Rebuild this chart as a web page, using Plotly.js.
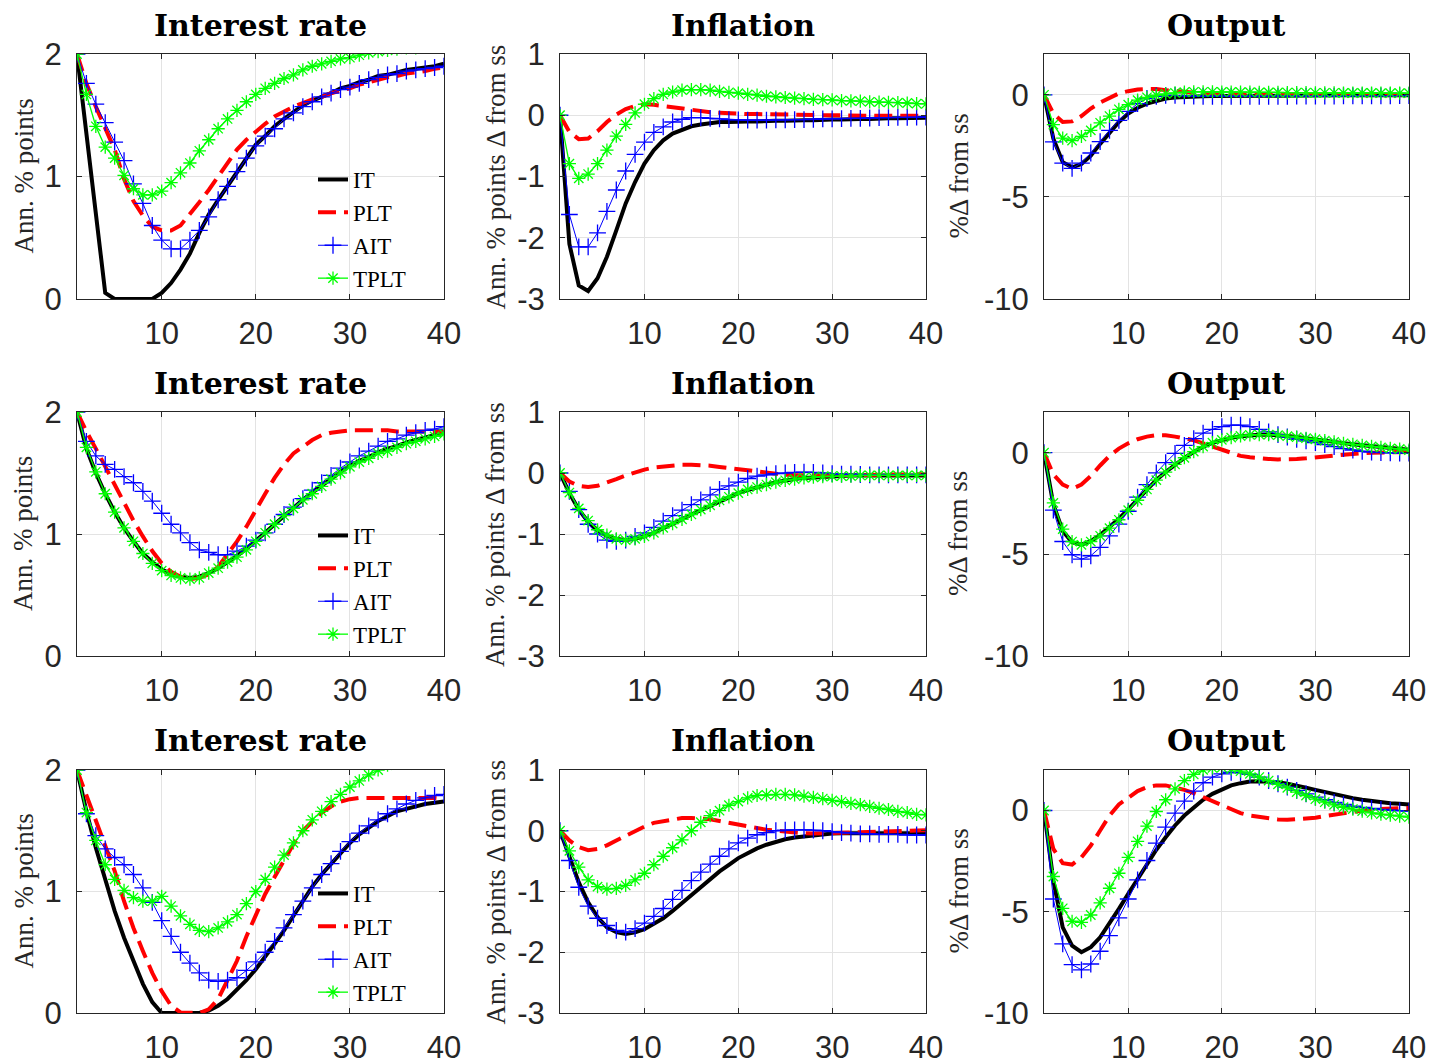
<!DOCTYPE html>
<html><head><meta charset="utf-8">
<script src="https://cdn.plot.ly/plotly-3.0.1.min.js"></script>
<style>html,body{margin:0;padding:0;background:#fff}#chart{width:1431px;height:1064px}</style>
</head><body><div id="chart"></div>
<script>
// ---------- data ----------
const periods = [1,2,3,4,5,6,7,8,9,10,11,12,13,14,15,16,17,18,19,20,21,22,23,24,25,26,27,28,29,30,31,32,33,34,35,36,37,38,39,40];
const seriesNames = ['IT','PLT','AIT','TPLT'];
const panelTitles = ['Interest rate','Inflation','Output'];
const yLabels = ['Ann. % points','Ann. % points \u0394 from ss','%\u0394 from ss'];
const yTickVals = [[0,1,2],[-3,-2,-1,0,1],[-10,-5,0]];
const yTickText = [['0','1','2'],['-3','-2','-1','0','1'],['-10','-5','0']];
const yRanges = [[0,2],[-3,1],[-10,2]];
const xTickVals = [10,20,30,40];
const xTickText = ['10','20','30','40'];

// Row 1
const r1_rate_IT   = [2.0,1.35,0.70,0.05,0,0,0,0,0,0.05,0.13,0.24,0.37,0.54,0.69,0.81,0.92,1.04,1.15,1.26,1.33,1.41,1.47,1.53,1.58,1.62,1.65,1.68,1.72,1.74,1.77,1.79,1.82,1.83,1.85,1.87,1.88,1.89,1.90,1.92];
const r1_rate_PLT  = [2.0,1.76,1.57,1.39,1.22,0.98,0.80,0.68,0.59,0.56,0.56,0.60,0.69,0.79,0.89,1.00,1.11,1.22,1.30,1.37,1.43,1.49,1.53,1.57,1.60,1.63,1.65,1.68,1.70,1.72,1.75,1.77,1.79,1.81,1.82,1.84,1.85,1.86,1.88,1.89];
const r1_rate_AIT  = [2.0,1.76,1.59,1.44,1.28,1.13,0.94,0.78,0.60,0.48,0.41,0.41,0.48,0.56,0.67,0.81,0.92,1.04,1.15,1.25,1.33,1.39,1.47,1.52,1.57,1.61,1.65,1.68,1.71,1.73,1.76,1.79,1.81,1.83,1.84,1.86,1.87,1.88,1.89,1.90];
const r1_rate_TPLT = [2.0,1.67,1.41,1.24,1.15,1.01,0.90,0.85,0.85,0.88,0.95,1.03,1.11,1.21,1.30,1.39,1.47,1.54,1.61,1.67,1.72,1.76,1.80,1.83,1.87,1.90,1.92,1.94,1.96,1.97,1.99,2.01,2.02,2.03,2.04,2.05,2.05,2.06,2.07,2.07];

const r1_infl_IT   = [0,-2.10,-2.78,-2.87,-2.66,-2.31,-1.88,-1.44,-1.09,-0.79,-0.57,-0.41,-0.30,-0.24,-0.18,-0.15,-0.125,-0.11,-0.11,-0.10,-0.10,-0.10,-0.09,-0.09,-0.09,-0.08,-0.08,-0.08,-0.07,-0.07,-0.07,-0.06,-0.06,-0.06,-0.05,-0.05,-0.05,-0.05,-0.04,-0.04];
const r1_infl_PLT  = [0,-0.27,-0.39,-0.38,-0.26,-0.11,0.01,0.10,0.15,0.18,0.17,0.15,0.125,0.10,0.08,0.065,0.05,0.04,0.03,0.03,0.02,0.02,0.015,0.01,0.01,0.005,0.005,0,0,0,-0.005,-0.005,-0.01,-0.01,-0.01,-0.01,-0.01,-0.01,-0.01,-0.01];
const r1_infl_AIT  = [0,-1.62,-2.15,-2.15,-1.92,-1.57,-1.22,-0.91,-0.64,-0.44,-0.28,-0.19,-0.11,-0.065,-0.04,-0.04,-0.05,-0.06,-0.07,-0.075,-0.08,-0.08,-0.08,-0.075,-0.075,-0.07,-0.07,-0.065,-0.06,-0.06,-0.055,-0.05,-0.05,-0.045,-0.04,-0.04,-0.035,-0.035,-0.03,-0.03];
const r1_infl_TPLT = [0,-0.79,-1.03,-0.96,-0.79,-0.57,-0.34,-0.15,0.04,0.18,0.27,0.34,0.38,0.41,0.42,0.42,0.41,0.39,0.375,0.36,0.34,0.33,0.31,0.30,0.29,0.28,0.27,0.26,0.255,0.25,0.24,0.235,0.23,0.22,0.215,0.21,0.205,0.20,0.19,0.185];

const r1_out_IT   = [0,-2.15,-3.30,-3.55,-3.39,-2.98,-2.40,-1.83,-1.33,-0.92,-0.63,-0.43,-0.28,-0.18,-0.13,-0.10,-0.08,-0.07,-0.06,-0.05,-0.05,-0.05,-0.04,-0.04,-0.04,-0.04,-0.03,-0.03,-0.03,-0.03,-0.03,-0.03,-0.02,-0.02,-0.02,-0.02,-0.02,-0.02,-0.02,-0.02];
const r1_out_PLT  = [0,-0.92,-1.33,-1.30,-1.04,-0.67,-0.38,-0.15,0.07,0.18,0.26,0.28,0.28,0.23,0.18,0.13,0.10,0.07,0.05,0.04,0.03,0.02,0.02,0.01,0.01,0.01,0,0,0,0,0,0,0,0,0,0,0,0,0,0];
const r1_out_AIT  = [0,-2.30,-3.34,-3.60,-3.34,-2.85,-2.29,-1.74,-1.25,-0.81,-0.43,-0.18,-0.07,-0.03,-0.03,-0.05,-0.06,-0.07,-0.07,-0.07,-0.07,-0.07,-0.07,-0.07,-0.07,-0.07,-0.07,-0.06,-0.06,-0.06,-0.06,-0.06,-0.05,-0.05,-0.05,-0.05,-0.05,-0.05,-0.04,-0.04];
const r1_out_TPLT = [0,-1.46,-2.12,-2.24,-2.04,-1.74,-1.37,-1.04,-0.71,-0.48,-0.26,-0.12,-0.02,0.05,0.10,0.13,0.15,0.15,0.15,0.14,0.14,0.13,0.13,0.12,0.12,0.12,0.11,0.11,0.11,0.10,0.10,0.10,0.09,0.09,0.09,0.09,0.08,0.08,0.08,0.08];

// Row 2
const r2_rate_IT   = [2.0,1.70,1.50,1.33,1.18,1.05,0.94,0.84,0.77,0.71,0.67,0.65,0.64,0.65,0.68,0.72,0.77,0.82,0.88,0.94,1.01,1.08,1.15,1.22,1.28,1.34,1.40,1.46,1.51,1.56,1.60,1.63,1.67,1.70,1.72,1.75,1.77,1.79,1.81,1.83];
const r2_rate_PLT  = [2.0,1.84,1.70,1.55,1.40,1.25,1.11,0.98,0.86,0.76,0.69,0.65,0.63,0.64,0.67,0.73,0.83,0.94,1.06,1.20,1.33,1.46,1.57,1.66,1.72,1.77,1.81,1.83,1.84,1.85,1.85,1.85,1.85,1.85,1.84,1.84,1.84,1.84,1.84,1.84];
const r2_rate_AIT  = [2.0,1.76,1.64,1.57,1.53,1.47,1.42,1.35,1.27,1.17,1.08,1.01,0.93,0.87,0.85,0.83,0.83,0.86,0.90,0.95,1.01,1.08,1.16,1.22,1.29,1.36,1.42,1.48,1.54,1.59,1.64,1.68,1.72,1.76,1.78,1.81,1.83,1.85,1.86,1.88];
const r2_rate_TPLT = [2.0,1.71,1.51,1.33,1.18,1.05,0.94,0.84,0.76,0.70,0.66,0.64,0.63,0.64,0.68,0.72,0.77,0.81,0.87,0.94,1.01,1.08,1.15,1.21,1.28,1.33,1.39,1.45,1.50,1.55,1.59,1.62,1.66,1.68,1.71,1.74,1.76,1.78,1.80,1.82];

const r2_infl_IT   = [0,-0.33,-0.60,-0.80,-0.94,-1.03,-1.08,-1.10,-1.08,-1.04,-0.98,-0.91,-0.84,-0.76,-0.68,-0.61,-0.53,-0.46,-0.39,-0.33,-0.28,-0.23,-0.19,-0.15,-0.12,-0.10,-0.08,-0.07,-0.06,-0.05,-0.05,-0.04,-0.04,-0.04,-0.04,-0.04,-0.04,-0.04,-0.04,-0.04];
const r2_infl_PLT  = [0,-0.14,-0.21,-0.23,-0.21,-0.16,-0.10,-0.04,0.01,0.055,0.09,0.11,0.125,0.135,0.135,0.13,0.12,0.10,0.08,0.06,0.04,0.015,0.0,-0.015,-0.03,-0.035,-0.04,-0.04,-0.04,-0.04,-0.035,-0.035,-0.03,-0.03,-0.03,-0.025,-0.025,-0.02,-0.02,-0.02];
const r2_infl_AIT  = [0,-0.30,-0.60,-0.84,-1.00,-1.10,-1.12,-1.10,-1.04,-0.98,-0.89,-0.79,-0.70,-0.61,-0.52,-0.44,-0.36,-0.27,-0.21,-0.15,-0.09,-0.05,-0.03,-0.01,0.0,0.01,0.015,0.01,0.0,-0.01,-0.02,-0.02,-0.025,-0.03,-0.03,-0.03,-0.03,-0.03,-0.03,-0.03];
const r2_infl_TPLT = [0,-0.32,-0.58,-0.78,-0.93,-1.02,-1.08,-1.10,-1.08,-1.04,-0.98,-0.90,-0.83,-0.76,-0.68,-0.60,-0.53,-0.45,-0.39,-0.33,-0.27,-0.23,-0.19,-0.15,-0.12,-0.10,-0.08,-0.07,-0.06,-0.05,-0.05,-0.05,-0.04,-0.04,-0.04,-0.04,-0.04,-0.04,-0.04,-0.04];

const r2_out_IT   = [0,-2.55,-3.85,-4.40,-4.52,-4.35,-4.05,-3.67,-3.25,-2.79,-2.30,-1.79,-1.34,-0.95,-0.58,-0.26,0.04,0.29,0.48,0.62,0.73,0.81,0.86,0.88,0.88,0.86,0.82,0.77,0.72,0.66,0.60,0.54,0.47,0.41,0.36,0.31,0.26,0.22,0.18,0.14];
const r2_out_PLT  = [0,-1.07,-1.57,-1.78,-1.57,-1.15,-0.63,-0.16,0.20,0.46,0.66,0.79,0.86,0.86,0.79,0.71,0.61,0.46,0.30,0.13,-0.03,-0.16,-0.23,-0.28,-0.31,-0.33,-0.33,-0.31,-0.28,-0.23,-0.18,-0.13,-0.08,-0.05,-0.02,0.0,0.01,0.02,0.03,0.03];
const r2_out_AIT  = [0,-2.83,-4.37,-5.02,-5.24,-5.07,-4.66,-4.09,-3.51,-2.88,-2.19,-1.57,-0.99,-0.49,-0.03,0.36,0.69,0.96,1.15,1.28,1.35,1.35,1.28,1.15,1.02,0.89,0.77,0.66,0.58,0.49,0.40,0.30,0.20,0.13,0.07,0.03,0.0,-0.01,-0.02,-0.02];
const r2_out_TPLT = [0,-2.47,-3.76,-4.37,-4.53,-4.37,-4.09,-3.71,-3.30,-2.83,-2.34,-1.81,-1.35,-0.96,-0.58,-0.25,0.05,0.30,0.49,0.63,0.74,0.82,0.87,0.89,0.89,0.86,0.81,0.76,0.71,0.66,0.59,0.53,0.46,0.41,0.36,0.31,0.26,0.21,0.18,0.13];

// Row 3
const r3_rate_IT   = [2.0,1.66,1.36,1.09,0.84,0.62,0.42,0.24,0.09,0,0,0,0,0,0.02,0.06,0.115,0.19,0.27,0.36,0.46,0.57,0.68,0.80,0.92,1.04,1.14,1.23,1.32,1.40,1.47,1.53,1.58,1.62,1.66,1.68,1.70,1.72,1.73,1.74];
const r3_rate_PLT  = [2.0,1.79,1.58,1.38,1.17,0.92,0.70,0.51,0.33,0.18,0.06,0.005,0,0,0.03,0.115,0.27,0.43,0.63,0.81,0.98,1.12,1.26,1.39,1.50,1.58,1.65,1.70,1.74,1.76,1.77,1.77,1.77,1.77,1.77,1.77,1.77,1.77,1.77,1.76];
const r3_rate_AIT  = [2.0,1.64,1.46,1.35,1.28,1.22,1.14,1.03,0.91,0.76,0.63,0.50,0.41,0.33,0.27,0.26,0.27,0.29,0.35,0.42,0.50,0.59,0.70,0.81,0.92,1.03,1.14,1.23,1.33,1.41,1.48,1.54,1.59,1.64,1.68,1.72,1.75,1.77,1.79,1.80];
const r3_rate_TPLT = [2.0,1.65,1.42,1.22,1.10,1.01,0.95,0.92,0.92,0.96,0.88,0.80,0.73,0.68,0.67,0.70,0.75,0.81,0.90,1.00,1.10,1.20,1.30,1.40,1.50,1.59,1.66,1.74,1.80,1.86,1.91,1.96,2.00,2.04,2.07,2.10,2.12,2.14,2.16,2.17];

const r3_infl_IT   = [0,-0.44,-0.85,-1.18,-1.42,-1.59,-1.67,-1.70,-1.67,-1.62,-1.53,-1.44,-1.32,-1.19,-1.06,-0.92,-0.79,-0.67,-0.56,-0.45,-0.37,-0.29,-0.23,-0.18,-0.14,-0.11,-0.09,-0.07,-0.055,-0.045,-0.04,-0.04,-0.04,-0.04,-0.04,-0.04,-0.04,-0.04,-0.04,-0.04];
const r3_infl_PLT  = [0,-0.16,-0.27,-0.32,-0.30,-0.24,-0.16,-0.08,0.0,0.07,0.13,0.16,0.19,0.21,0.21,0.20,0.19,0.16,0.13,0.09,0.07,0.04,0.016,0.0,-0.016,-0.03,-0.04,-0.045,-0.045,-0.04,-0.035,-0.03,-0.025,-0.02,-0.015,-0.01,-0.005,0.0,0.005,0.01];
const r3_infl_AIT  = [0,-0.49,-0.93,-1.24,-1.44,-1.56,-1.64,-1.67,-1.61,-1.52,-1.41,-1.28,-1.13,-0.98,-0.82,-0.68,-0.55,-0.42,-0.30,-0.20,-0.12,-0.066,-0.03,0.0,0.01,0.016,0.016,0.01,0.0,-0.016,-0.03,-0.04,-0.05,-0.05,-0.06,-0.06,-0.06,-0.07,-0.07,-0.07];
const r3_infl_TPLT = [0,-0.33,-0.60,-0.81,-0.92,-0.96,-0.95,-0.90,-0.81,-0.70,-0.56,-0.42,-0.28,-0.15,0.0,0.14,0.25,0.33,0.42,0.48,0.54,0.58,0.59,0.60,0.60,0.59,0.57,0.55,0.53,0.50,0.48,0.45,0.43,0.40,0.37,0.35,0.32,0.30,0.27,0.26];

const r3_out_IT   = [0,-3.46,-5.77,-6.67,-7.00,-6.75,-6.26,-5.60,-4.86,-4.12,-3.38,-2.64,-1.94,-1.32,-0.74,-0.25,0.16,0.53,0.82,1.04,1.24,1.35,1.43,1.45,1.43,1.40,1.32,1.24,1.12,1.02,0.91,0.79,0.69,0.61,0.53,0.46,0.41,0.36,0.33,0.30];
const r3_out_PLT  = [0,-1.90,-2.60,-2.67,-2.31,-1.73,-0.99,-0.25,0.30,0.66,0.96,1.15,1.24,1.24,1.15,1.02,0.86,0.66,0.46,0.25,0.03,-0.13,-0.25,-0.33,-0.40,-0.44,-0.46,-0.44,-0.41,-0.36,-0.28,-0.20,-0.12,-0.05,0.0,0.05,0.08,0.10,0.12,0.12];
const r3_out_AIT  = [0,-4.37,-6.59,-7.61,-7.87,-7.58,-6.95,-6.18,-5.30,-4.37,-3.43,-2.47,-1.61,-0.82,-0.13,0.46,0.96,1.37,1.65,1.81,1.89,1.86,1.78,1.65,1.48,1.32,1.15,0.99,0.82,0.66,0.53,0.40,0.30,0.21,0.15,0.10,0.05,0.02,-0.02,-0.03];
const r3_out_TPLT = [0,-3.26,-4.83,-5.47,-5.52,-5.16,-4.56,-3.84,-3.10,-2.31,-1.52,-0.77,-0.05,0.53,1.07,1.48,1.78,2.01,2.10,2.12,2.05,1.94,1.81,1.65,1.48,1.29,1.12,0.91,0.74,0.56,0.41,0.28,0.16,0.07,-0.03,-0.12,-0.18,-0.23,-0.28,-0.33];

const panels = [
  [[r1_rate_IT,r1_rate_PLT,r1_rate_AIT,r1_rate_TPLT],[r1_infl_IT,r1_infl_PLT,r1_infl_AIT,r1_infl_TPLT],[r1_out_IT,r1_out_PLT,r1_out_AIT,r1_out_TPLT]],
  [[r2_rate_IT,r2_rate_PLT,r2_rate_AIT,r2_rate_TPLT],[r2_infl_IT,r2_infl_PLT,r2_infl_AIT,r2_infl_TPLT],[r2_out_IT,r2_out_PLT,r2_out_AIT,r2_out_TPLT]],
  [[r3_rate_IT,r3_rate_PLT,r3_rate_AIT,r3_rate_TPLT],[r3_infl_IT,r3_infl_PLT,r3_infl_AIT,r3_infl_TPLT],[r3_out_IT,r3_out_PLT,r3_out_AIT,r3_out_TPLT]]
];

// ---------- styles ----------
const W = 1431, H = 1064;
const colPx = [[77,444],[560,926],[1044,1409]];
const rowPx = [[54,299],[412,656],[770,1013]];
const titlePx = [25,383,740];
const ylabelXPx = [23,495,958];
const legendNames = ['legend','legend2','legend3'];
const legendTopPx = [158,514,872];

const traceStyle = [
  {mode:'lines', line:{color:'#000000', width:4}},
  {mode:'lines', line:{color:'#FF0000', width:4, dash:'18px,8px'}},
  {mode:'lines+markers', line:{color:'#0000FF', width:1}, marker:{symbol:'cross-thin-open', size:12, color:'#0000FF', line:{color:'#0000FF', width:1.3}}},
  {mode:'lines+markers', line:{color:'#00FF00', width:1.3}, marker:{symbol:'asterisk-open', size:11, color:'#00FF00', line:{color:'#00FF00', width:1.3}}}
];

const data = [];
const layout = {
  width: W, height: H,
  margin: {l:0, r:0, t:0, b:0},
  paper_bgcolor: '#ffffff', plot_bgcolor: '#ffffff',
  annotations: [],
  showlegend: true
};

const tickFont = {family:'Liberation Sans, Arial, sans-serif', size:31, color:'#262626'};
const serif = 'Liberation Serif, Times New Roman, serif';

for (let r = 0; r < 3; r++) {
  for (let c = 0; c < 3; c++) {
    const k = r*3 + c + 1;
    const xa = k === 1 ? 'x' : 'x' + k;
    const ya = k === 1 ? 'y' : 'y' + k;
    const xKey = k === 1 ? 'xaxis' : 'xaxis' + k;
    const yKey = k === 1 ? 'yaxis' : 'yaxis' + k;
    const common = {
      showgrid: true, gridcolor: '#e3e3e3', gridwidth: 1,
      zeroline: false, showline: true, mirror: 'ticks',
      linecolor: '#262626', linewidth: 1,
      ticks: 'inside', ticklen: 5, tickwidth: 1, tickcolor: '#262626',
      tickfont: tickFont, fixedrange: true
    };
    layout[xKey] = Object.assign({}, common, {
      domain: [colPx[c][0]/W, colPx[c][1]/W],
      anchor: ya, range: [1, 40],
      tickmode: 'array', tickvals: xTickVals, ticktext: xTickText,
      ticklabelstandoff: 7
    });
    layout[yKey] = Object.assign({}, common, {
      domain: [1 - rowPx[r][1]/H, 1 - rowPx[r][0]/H],
      anchor: xa, range: yRanges[c],
      tickmode: 'array', tickvals: yTickVals[c], ticktext: yTickText[c],
      ticklabelstandoff: 8
    });
    for (let s = 0; s < 4; s++) {
      const st = traceStyle[s];
      const tr = {
        type: 'scatter', x: periods, y: panels[r][c][s],
        xaxis: xa, yaxis: ya, name: seriesNames[s],
        mode: st.mode, line: st.line,
        showlegend: c === 0, legend: legendNames[r],
        hoverinfo: 'skip'
      };
      if (st.marker) tr.marker = st.marker;
      data.push(tr);
    }
    // subplot title
    layout.annotations.push({
      xref:'paper', yref:'paper',
      x: (colPx[c][0] + colPx[c][1]) / 2 / W, y: 1 - titlePx[r]/H,
      xanchor:'center', yanchor:'middle', showarrow:false,
      text: panelTitles[c],
      font: {family:'DejaVu Serif, serif', size:30, color:'#000000', weight:'bold'}
    });
    // y-axis label
    layout.annotations.push({
      xref:'paper', yref:'paper',
      x: ylabelXPx[c]/W, y: 1 - (rowPx[r][0] + rowPx[r][1]) / 2 / H,
      xanchor:'center', yanchor:'middle', showarrow:false, textangle:-90,
      text: yLabels[c],
      font: {family: serif, size:27, color:'#262626'}
    });
  }
  layout[legendNames[r]] = {
    x: 313/W, y: 1 - legendTopPx[r]/H, xanchor:'left', yanchor:'top',
    bgcolor:'rgba(0,0,0,0)', borderwidth:0,
    font:{family: serif, size:23, color:'#000000'},
    tracegroupgap: 0, itemwidth: 30
  };
}

Plotly.newPlot('chart', data, layout, {displayModeBar:false, staticPlot:true});
</script>
</body></html>
